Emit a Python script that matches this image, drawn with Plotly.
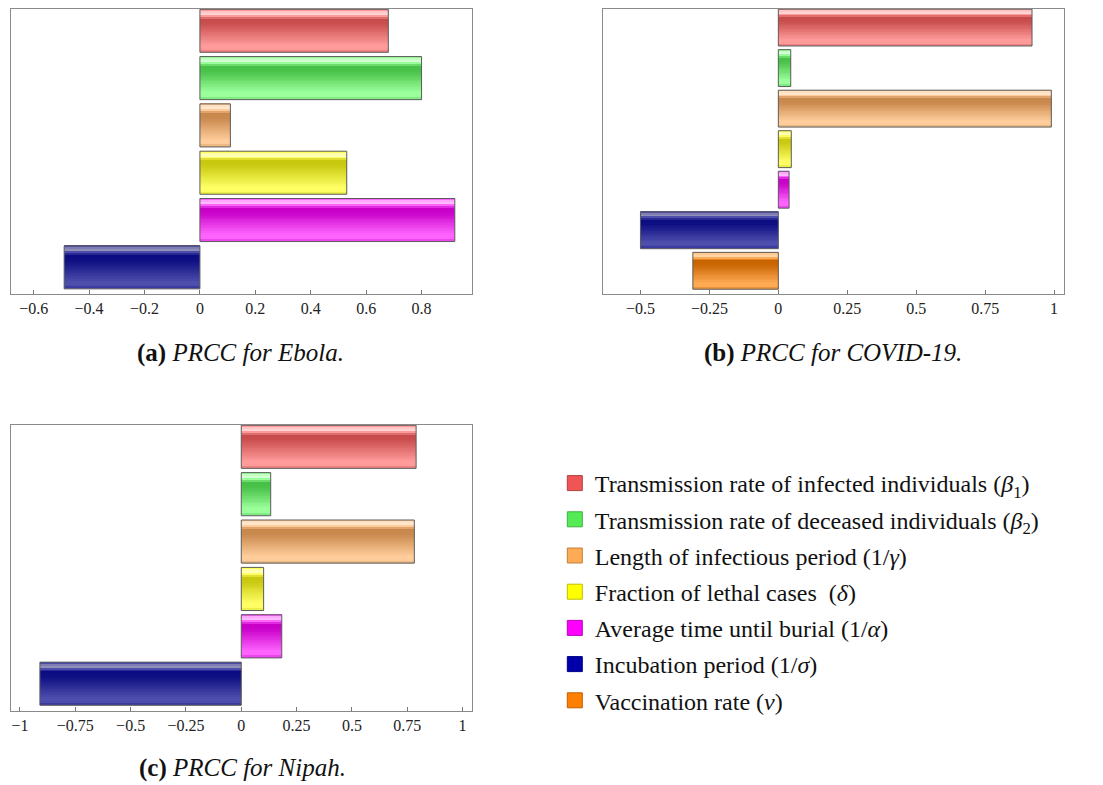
import plotly.graph_objects as go

# ---------------- data ----------------
param_labels = [
    "Transmission rate of infected individuals (<i>β</i><sub>1</sub>)",
    "Transmission rate of deceased individuals (<i>β</i><sub>2</sub>)",
    "Length of infectious period (1/<i>γ</i>)",
    "Fraction of lethal cases  (<i>δ</i>)",
    "Average time until burial (1/<i>α</i>)",
    "Incubation period (1/<i>σ</i>)",
    "Vaccination rate (<i>v</i>)",
]
ebola_prcc = [0.68, 0.80, 0.11, 0.53, 0.92, -0.49]
covid_prcc = [0.92, 0.045, 0.99, 0.047, 0.039, -0.50, -0.31]
nipah_prcc = [0.79, 0.133, 0.782, 0.101, 0.183, -0.91]

ebola_ticks = [-0.6, -0.4, -0.2, 0, 0.2, 0.4, 0.6, 0.8]
ebola_ticktext = ["−0.6", "−0.4", "−0.2", "0", "0.2", "0.4", "0.6", "0.8"]
covid_ticks = [-0.5, -0.25, 0, 0.25, 0.5, 0.75, 1]
covid_ticktext = ["−0.5", "−0.25", "0", "0.25", "0.5", "0.75", "1"]
nipah_ticks = [-1, -0.75, -0.5, -0.25, 0, 0.25, 0.5, 0.75, 1]
nipah_ticktext = ["−1", "−0.75", "−0.5", "−0.25", "0", "0.25", "0.5", "0.75", "1"]

captions = ["<b>(a)</b> <i>PRCC for Ebola.</i>",
            "<b>(b)</b> <i>PRCC for COVID-19.</i>",
            "<b>(c)</b> <i>PRCC for Nipah.</i>"]

# ---------------- styles ----------------
# (dark, light, highlight, legend swatch)
palette = [
    ((200, 75, 75), (255, 155, 155), (255, 230, 230), (240, 85, 85)),
    ((70, 192, 70), (155, 255, 155), (228, 255, 228), (85, 235, 85)),
    ((200, 135, 75), (255, 205, 155), (255, 240, 222), (255, 170, 85)),
    ((200, 200, 15), (255, 255, 100), (255, 255, 215), (255, 255, 0)),
    ((200, 0, 200), (255, 100, 255), (255, 215, 255), (255, 0, 255)),
    ((12, 12, 130), (78, 78, 172), (165, 165, 188), (0, 0, 170)),
    ((200, 100, 0), (255, 170, 85), (255, 228, 195), (255, 128, 0)),
]
# gradient profile: (fraction from top, level) 0=dark 1=light 2=highlight
profile = [(0.0, 0.7), (0.05, 1.3), (0.10, 2.0), (0.15, 1.1), (0.24, 0.0),
           (0.36, 0.05), (0.85, 1.0), (0.93, 1.0), (1.0, 0.55)]
N_BANDS = 22
BAR_W = 0.91
FONT = "Liberation Serif"


def level_at(f):
    for (f0, l0), (f1, l1) in zip(profile[:-1], profile[1:]):
        if f0 <= f <= f1:
            return l0 + (l1 - l0) * (f - f0) / (f1 - f0)
    return profile[-1][1]


def mix(a, b, t):
    return tuple(int(round(a[k] + (b[k] - a[k]) * t)) for k in range(3))


def band_color(pi, f):
    dark, light, hl, _ = palette[pi]
    lv = level_at(f)
    c = mix(dark, light, lv) if lv <= 1 else mix(light, hl, lv - 1)
    return "rgb(%d,%d,%d)" % c


panels = [
    dict(vals=ebola_prcc, xa="x", ya="y", xdom=[0.0097, 0.4279], ydom=[0.6251, 0.9885],
         xr=[-0.683, 0.982], tv=ebola_ticks, tt=ebola_ticktext, yr=[0.57, -0.46]),
    dict(vals=covid_prcc, xa="x2", ya="y2", xdom=[0.5464, 0.9649], ydom=[0.6251, 0.9885],
         xr=[-0.637, 1.037], tv=covid_ticks, tt=covid_ticktext, yr=[0.58, -0.457]),
    dict(vals=nipah_prcc, xa="x3", ya="y3", xdom=[0.0097, 0.4282], ydom=[0.0946, 0.4586],
         xr=[-1.042, 1.044], tv=nipah_ticks, tt=nipah_ticktext, yr=[0.57, -0.46]),
]

fig = go.Figure()
for p in panels:
    n = len(p["vals"])
    idx = list(range(n))
    for b in range(N_BANDS):
        fc = (b + 0.5) / N_BANDS
        fig.add_trace(go.Bar(
            orientation="h", x=p["vals"], y=idx,
            width=BAR_W / N_BANDS, offset=-BAR_W / 2 + b * BAR_W / N_BANDS,
            marker=dict(color=[band_color(i, fc) for i in idx], line=dict(width=0)),
            xaxis=p["xa"], yaxis=p["ya"], showlegend=False, hoverinfo="skip"))
    fig.add_trace(go.Bar(
        orientation="h", x=p["vals"], y=idx, width=BAR_W, offset=-BAR_W / 2,
        marker=dict(color="rgba(0,0,0,0)", line=dict(color="#5c5c5c", width=1)),
        xaxis=p["xa"], yaxis=p["ya"], showlegend=False, hoverinfo="skip"))

# legend entries
for i, lab in enumerate(param_labels):
    sw = palette[i][3]
    border = mix(sw, (0, 0, 0), 0.25)
    fig.add_trace(go.Scatter(
        x=[None], y=[None], mode="markers", name=lab, legendgroup="g%d" % i,
        marker=dict(symbol="square", size=15, color="rgb(%d,%d,%d)" % sw,
                    line=dict(color="rgb(%d,%d,%d)" % border, width=1)),
        xaxis="x", yaxis="y", showlegend=True))

layout = dict(
    width=1103, height=785, autosize=False,
    margin=dict(l=0, r=0, t=0, b=0),
    paper_bgcolor="white", plot_bgcolor="white",
    barmode="overlay",
    font=dict(family=FONT, color="#222"),
    legend=dict(x=0.503, y=1 - 461 / 785, xanchor="left", yanchor="top",
                font=dict(family=FONT, size=24, color="#111"),
                bgcolor="rgba(0,0,0,0)", itemwidth=30, tracegroupgap=2,
                itemclick=False, itemdoubleclick=False),
    showlegend=True,
)
axis_common = dict(showline=True, mirror=True, linecolor="#8a8a8a", linewidth=1,
                   showgrid=False, zeroline=False)
for k, p in enumerate(panels):
    sfx = "" if k == 0 else str(k + 1)
    n = len(p["vals"])
    layout["xaxis" + sfx] = dict(
        domain=p["xdom"], anchor=p["ya"], range=p["xr"], tickmode="array",
        tickvals=p["tv"], ticktext=p["tt"], ticks="inside", ticklen=4,
        tickcolor="#777", tickfont=dict(family=FONT, size=16, color="#222"),
        **axis_common)
    layout["yaxis" + sfx] = dict(
        domain=p["ydom"], anchor=p["xa"], range=[n - 1 + p["yr"][0], p["yr"][1]],
        showticklabels=False, ticks="", **axis_common)

cap_pos = [(240, 353), (833, 353), (242, 768)]
layout["annotations"] = [
    dict(text=c, x=px / 1103, y=1 - py / 785, xref="paper", yref="paper",
         xanchor="center", yanchor="middle", showarrow=False,
         font=dict(family=FONT, size=25, color="#111"))
    for c, (px, py) in zip(captions, cap_pos)
]
fig.update_layout(**layout)
fig.write_html("out.html")
